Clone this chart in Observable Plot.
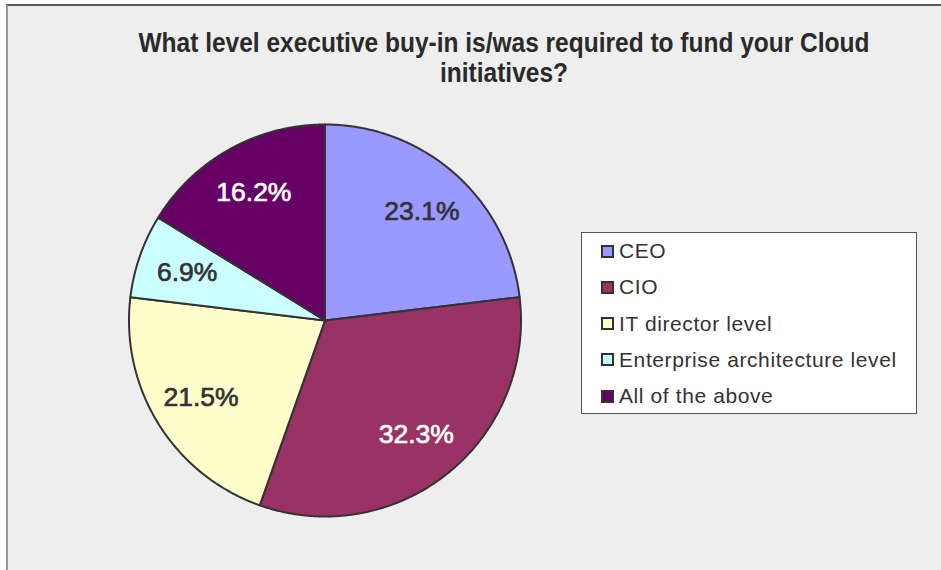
<!DOCTYPE html>
<html>
<head>
<meta charset="utf-8">
<script src="https://cdn.jsdelivr.net/npm/d3@7"></script>
<script src="https://cdn.jsdelivr.net/npm/@observablehq/plot@0.6"></script>
<style>
  html, body { margin: 0; padding: 0; background: #ffffff; width: 941px; height: 570px; overflow: hidden; }
  #frame { position: absolute; left: 6px; top: 4px; width: 960px; height: 600px; background: #eeeeee;
           border-top: 2px solid #5a5a5a; border-left: 2px solid #999999; }
  #chart { position: absolute; left: 0; top: 0; }
  #title { position: absolute; left: 0; width: 1008px; top: 27.5px; text-align: center;
           font-family: "Liberation Sans Narrow", "Arial Narrow", "Liberation Sans", Arial, sans-serif;
           font-weight: bold; font-size: 27px; line-height: 30px; color: #2a2a2a;
           transform-origin: 504px 0; white-space: nowrap; }
  #legend { position: absolute; left: 581px; top: 232px; width: 336px; height: 182px; background: #ffffff;
            border: 1px solid #555555; box-sizing: border-box; }
  .row { display: flex; align-items: center; height: 36.25px; }
  .sw { width: 13px; height: 13px; box-sizing: border-box; border: 2px solid #333333; margin-left: 19px; }
  .lt { margin-left: 5px; font-family: "Liberation Sans", Arial, sans-serif; font-size: 21px; letter-spacing: 0.6px;
        color: #333333; white-space: nowrap; }
  #chart text { paint-order: stroke; }
</style>
</head>
<body>
<div id="frame"></div>
<div id="chart"></div>
<div id="title"><span id="t1"></span><br><span id="t2"></span></div>
<div id="legend"></div>
<script>
// ---- Data ----
const titleLines = ["What level executive buy-in is/was required to fund your Cloud", "initiatives?"];
const categories = ["CEO", "CIO", "IT director level", "Enterprise architecture level", "All of the above"];
const values = [23.1, 32.3, 21.5, 6.9, 16.2];
const colors = ["#9999FF", "#993366", "#FFFFCC", "#CCFFFF", "#660066"];
const labelColors = ["#333333", "#ffffff", "#333333", "#333333", "#ffffff"];

// ---- Layout constants ----
const cx = 324.5, cy = 320, R = 196;
const labelFrac = 0.745;

const slices = categories.map((name, i) => ({name, value: values[i], labelColor: labelColors[i]}));
const arcs = d3.pie().sort(null).value(d => d.value)(slices);

// polygon points for each slice (center + arc samples), in unit coordinates (y up)
const points = [];
for (const a of arcs) {
  points.push({name: a.data.name, x: 0, y: 0});
  const n = Math.max(2, Math.ceil((a.endAngle - a.startAngle) / 0.005));
  for (let k = 0; k <= n; k++) {
    const t = a.startAngle + (a.endAngle - a.startAngle) * k / n;
    points.push({name: a.data.name, x: Math.sin(t), y: Math.cos(t)});
  }
}
const labels = arcs.map(a => {
  const m = (a.startAngle + a.endAngle) / 2;
  return {text: a.data.value.toFixed(1) + "%", x: labelFrac * Math.sin(m), y: labelFrac * Math.cos(m), color: a.data.labelColor};
});

const textOpts = {x: "x", y: "y", text: "text", fontSize: 26.5, fontFamily: "Liberation Sans, Arial, sans-serif",
  strokeWidth: 0.7};

const chart = Plot.plot({
  width: 941, height: 570, margin: 0,
  style: {background: "transparent", overflow: "visible"},
  x: {domain: [-1, 1], range: [cx - R, cx + R], axis: null},
  y: {domain: [-1, 1], range: [cy + R, cy - R], axis: null},
  color: {domain: categories, range: colors},
  marks: [
    Plot.line(points, {x: "x", y: "y", z: "name", fill: "name", stroke: "#333333", strokeWidth: 2,
      curve: "linear-closed", strokeLinejoin: "round"}),
    Plot.text(labels.filter(d => d.color === "#333333"), {...textOpts, fill: "#333333", stroke: "#333333"}),
    Plot.text(labels.filter(d => d.color === "#ffffff"), {...textOpts, fill: "#ffffff", stroke: "#ffffff"})
  ]
});
document.getElementById("chart").appendChild(chart);

// title
document.getElementById("t1").textContent = titleLines[0];
document.getElementById("t2").textContent = titleLines[1];
const w1 = document.getElementById("t1").getBoundingClientRect().width;
document.getElementById("title").style.transform = `scaleX(${731 / w1})`;

// legend
const legend = document.getElementById("legend");
categories.forEach((c, i) => {
  const row = document.createElement("div");
  row.className = "row";
  const sw = document.createElement("div");
  sw.className = "sw";
  sw.style.background = colors[i];
  const lt = document.createElement("div");
  lt.className = "lt";
  lt.textContent = c;
  row.appendChild(sw);
  row.appendChild(lt);
  legend.appendChild(row);
});
</script>
</body>
</html>
